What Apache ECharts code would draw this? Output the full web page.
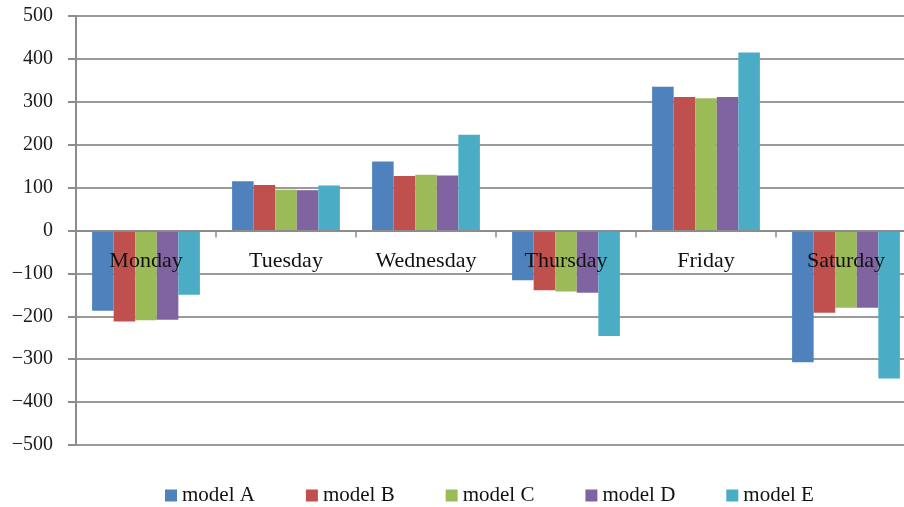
<!DOCTYPE html>
<html>
<head>
<meta charset="utf-8">
<script src="https://cdn.jsdelivr.net/npm/echarts@6/dist/echarts.min.js"></script>
<style>
  html, body { margin: 0; padding: 0; background: #fff; overflow: hidden; }
  #chart { width: 916px; height: 507px; }
</style>
</head>
<body>
<div id="chart"></div>
<script>
// Weekly results per model
const days = ['Monday', 'Tuesday', 'Wednesday', 'Thursday', 'Friday', 'Saturday'];
const seriesNames = ['model A', 'model B', 'model C', 'model D', 'model E'];
const modelA = [-187, 115, 161, -116, 335, -307];
const modelB = [-212, 106, 127, -139, 311, -192];
const modelC = [-209, 95, 130, -142, 308, -180];
const modelD = [-208, 94, 128, -145, 311, -180];
const modelE = [-150, 105, 223, -246, 415, -345];
const colors = ['#4F81BD', '#C0504D', '#9BBB59', '#8064A2', '#4BACC6'];

const allValues = [modelA, modelB, modelC, modelD, modelE];
const serifFont = '"Liberation Serif", "DejaVu Serif", serif';

const gridTop = 16;
const gridBottom = 62;
const chartHeight = 507;
// Move the category axis up from the bottom edge to the zero line (centre of a symmetric range)
const zeroOffset = -(chartHeight - gridTop - gridBottom) / 2;

const chart = echarts.init(document.getElementById('chart'));
chart.setOption({
  animation: false,
  color: colors,
  grid: { left: 76, right: 0, top: gridTop, bottom: gridBottom, containLabel: false },
  legend: {
    left: 165,
    top: 485,
    padding: 0,
    itemWidth: 12,
    itemHeight: 12,
    itemGap: 51,
    icon: 'rect',
    textStyle: { fontFamily: serifFont, fontSize: 21, color: '#111' },
    data: seriesNames
  },
  xAxis: {
    type: 'category',
    data: days,
    z: 10,
    position: 'bottom',
    offset: zeroOffset,
    axisLine: { onZero: false, lineStyle: { color: '#8c8c8c', width: 2 } },
    axisTick: { show: true, length: 7, alignWithLabel: false, lineStyle: { color: '#8c8c8c', width: 1.5 } },
    axisLabel: { margin: 20, fontFamily: serifFont, fontSize: 22, color: '#111' },
    splitLine: { show: false }
  },
  yAxis: {
    type: 'value',
    min: -500,
    max: 500,
    interval: 100,
    axisLine: { show: true, lineStyle: { color: '#8c8c8c', width: 2 } },
    axisTick: { show: true, length: 8, lineStyle: { color: '#8c8c8c', width: 2 } },
    axisLabel: {
      margin: 23,
      fontFamily: serifFont,
      fontSize: 20,
      color: '#1a1a1a',
      formatter: v => String(v).replace('-', '\u2212')
    },
    splitLine: { show: true, lineStyle: { color: '#9a9a9a', width: 2 } }
  },
  series: seriesNames.map((name, i) => ({
    name: name,
    type: 'bar',
    data: allValues[i],
    barGap: '0%',
    barCategoryGap: '23%',
    itemStyle: { color: colors[i] }
  }))
});
</script>
</body>
</html>
